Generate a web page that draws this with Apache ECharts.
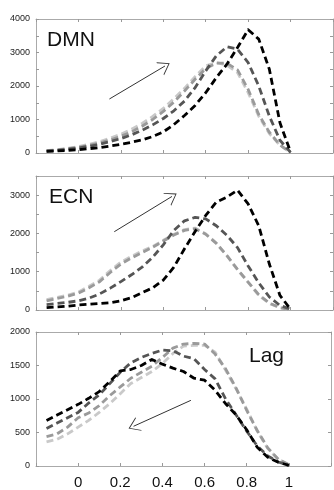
<!DOCTYPE html>
<html>
<head>
<meta charset="utf-8">
<script src="https://cdn.jsdelivr.net/npm/echarts@6/dist/echarts.min.js"></script>
<style>
  html, body { margin: 0; padding: 0; background: #fff; }
  #chart { width: 334px; height: 490px; }
</style>
</head>
<body>
<div id="chart"></div>
<script>
// shared x positions (normalised time)
const xValues = [-0.15, -0.1, -0.05, 0, 0.05, 0.1, 0.15, 0.2, 0.25, 0.3, 0.35, 0.4,
  0.45, 0.5, 0.55, 0.6, 0.65, 0.7, 0.75, 0.8, 0.85, 0.9, 0.95, 1.0]
const xTickLabels = ['0', '0.2', '0.4', '0.6', '0.8', '1']

// DMN panel
const dmnBlack = [50, 60, 80, 100, 130, 160, 210, 260, 320, 390, 490, 630, 850, 1120, 1420, 1800, 2250, 2650, 3150, 3680, 3400, 2500, 900, 30]
const dmnDark = [60, 80, 110, 150, 200, 260, 340, 430, 540, 680, 840, 1030, 1260, 1550, 1950, 2450, 2900, 3170, 3100, 2700, 2000, 1100, 380, 20]
const dmnMid = [65, 90, 125, 170, 230, 300, 390, 500, 630, 800, 1000, 1240, 1520, 1850, 2200, 2520, 2680, 2680, 2480, 1900, 1150, 620, 240, 10]
const dmnLight = [70, 100, 140, 190, 260, 340, 440, 560, 710, 880, 1090, 1330, 1620, 1930, 2280, 2600, 2700, 2620, 2400, 1800, 1100, 580, 230, 10]

// ECN panel
const ecnBlack = [60, 80, 100, 130, 150, 170, 190, 240, 320, 450, 580, 780, 1120, 1600, 2050, 2470, 2820, 2950, 3130, 2770, 2200, 1200, 380, 20]
const ecnDark = [140, 170, 200, 240, 310, 420, 570, 740, 920, 1120, 1380, 1700, 2080, 2330, 2420, 2380, 2200, 1950, 1630, 1150, 710, 340, 120, 20]
const ecnMid = [240, 300, 360, 440, 580, 740, 980, 1200, 1360, 1500, 1640, 1800, 1960, 2080, 2120, 1980, 1740, 1420, 1060, 730, 400, 180, 60, 10]
const ecnLight = [270, 330, 390, 470, 620, 780, 1030, 1250, 1400, 1540, 1660, 1820, 1980, 2100, 2140, 1990, 1750, 1420, 1050, 720, 380, 170, 60, 10]

// Lag panel
const lagBlack = [680, 760, 840, 920, 1010, 1110, 1260, 1420, 1440, 1500, 1590, 1520, 1460, 1410, 1310, 1280, 1130, 930, 760, 540, 280, 130, 55, 10]
const lagDark = [560, 640, 720, 800, 940, 1060, 1230, 1400, 1540, 1620, 1680, 1730, 1720, 1640, 1600, 1440, 1300, 1000, 760, 520, 300, 150, 60, 10]
const lagMid = [440, 480, 580, 720, 790, 900, 1050, 1180, 1310, 1400, 1490, 1620, 1760, 1820, 1830, 1820, 1670, 1450, 1160, 830, 530, 270, 100, 20]
const lagLight = [360, 400, 480, 580, 680, 800, 930, 1080, 1230, 1320, 1410, 1530, 1680, 1790, 1800, 1800, 1700, 1430, 1150, 850, 520, 260, 100, 20]

// arrows, in data units: [start, end]
const dmnArrow = [[0.146, 1612], [0.408, 2597]]
const ecnArrow = [[0.169, 2045], [0.441, 2966]]
const lagArrow = [[0.535, 980], [0.263, 593]]

const panelNames = ['DMN', 'ECN', 'Lag']
const panelMax = [4000, 3500, 2000]
const panelLabelStep = [1000, 1000, 500]

const FONT = '"Liberation Sans", Arial, Helvetica, sans-serif'
const frameColor = '#aaa'
const shades = ['#c9c9c9', '#9a9a9a', '#555', '#000'] // light -> black

const panels = [
  { lines: [dmnLight, dmnMid, dmnDark, dmnBlack], arrow: dmnArrow },
  { lines: [ecnLight, ecnMid, ecnDark, ecnBlack], arrow: ecnArrow },
  { lines: [lagLight, lagMid, lagDark, lagBlack], arrow: lagArrow },
]

const gridTops = [19, 176, 332]
// open arrowhead (thin chevron), tip at the top
const chevron = 'path://M0,10L5,0L10,10L9.3,10L5,1.4L0.7,10Z'

const grid = gridTops.map((t) => ({ left: 36, right: 1, top: t, height: 134 }))
const xAxis = []
const yAxis = []
const series = []

panels.forEach((p, i) => {
  const isLast = i === panels.length - 1
  const line = { show: true, onZero: false, lineStyle: { color: frameColor, width: 1 } }
  const tick = { show: true, inside: true, length: 3, lineStyle: { color: '#999' } }
  xAxis.push({
    type: 'value', gridIndex: i, position: 'bottom', min: -0.2, max: 1.2, interval: 0.2,
    axisLine: line, axisTick: tick, splitLine: { show: false },
    axisLabel: {
      show: isLast, margin: 9, color: '#111', fontSize: 15, fontFamily: FONT,
      formatter: (v) => {
        const s = xTickLabels.find((t) => Math.abs(parseFloat(t) - v) < 1e-6)
        return s || ''
      },
    },
  })
  xAxis.push({
    type: 'value', gridIndex: i, position: 'top', min: -0.2, max: 1.2, interval: 0.2,
    axisLine: line, axisTick: tick, axisLabel: { show: false }, splitLine: { show: false },
  })
  yAxis.push({
    type: 'value', gridIndex: i, position: 'left', min: 0, max: panelMax[i], interval: 500,
    axisLine: line, axisTick: tick, splitLine: { show: false },
    axisLabel: {
      margin: 6, color: '#222', fontSize: 9, fontFamily: FONT,
      formatter: (v) => (v % panelLabelStep[i] === 0 ? String(v) : ''),
    },
  })
  yAxis.push({
    type: 'value', gridIndex: i, position: 'right', min: 0, max: panelMax[i], interval: 500,
    axisLine: line, axisTick: tick, axisLabel: { show: false }, splitLine: { show: false },
  })

  p.lines.forEach((vals, k) => {
    const s = {
      type: 'line',
      xAxisIndex: i * 2,
      yAxisIndex: i * 2,
      showSymbol: false,
      silent: true,
      lineStyle: { color: shades[k], width: 2.8, type: [7, 4], cap: 'butt', join: 'round' },
      data: xValues.map((x, j) => [x, vals[j]]),
      z: 2 + k,
    }
    if (k === p.lines.length - 1) {
      s.markLine = {
        silent: true,
        symbol: ['none', chevron],
        symbolSize: [15, 11],
        label: { show: false },
        lineStyle: { color: '#333', width: 1, type: 'solid' },
        emphasis: { disabled: true },
        data: [[{ coord: p.arrow[0] }, { coord: p.arrow[1] }]],
      }
    }
    series.push(s)
  })
})

const title = [
  { text: panelNames[0], left: 47, top: 30 },
  { text: panelNames[1], left: 49, top: 187 },
  { text: panelNames[2], left: 249, top: 346 },
].map((t) => ({
  ...t, padding: 0,
  textStyle: { fontSize: 21, fontWeight: 'normal', color: '#111', fontFamily: FONT },
}))

const chart = echarts.init(document.getElementById('chart'))
chart.setOption({
  animation: false,
  title,
  grid,
  xAxis,
  yAxis,
  series,
})
</script>
</body>
</html>
